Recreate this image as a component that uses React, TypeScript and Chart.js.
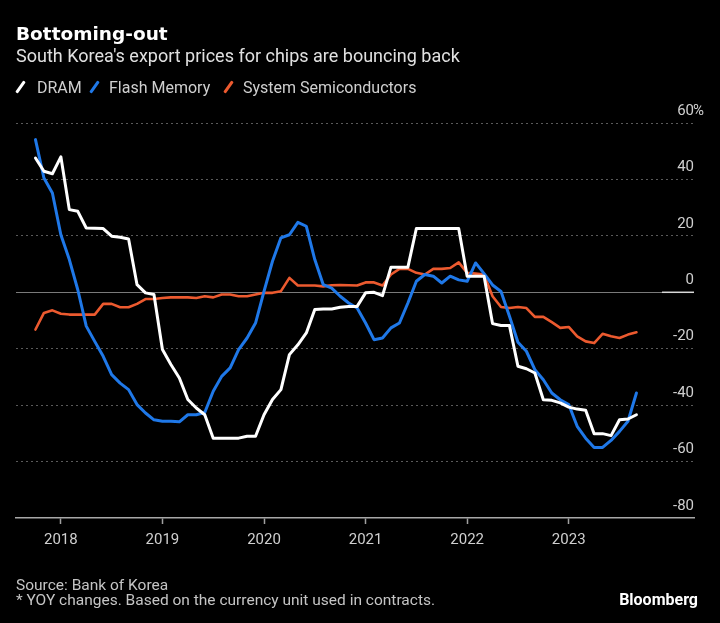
import React, { useEffect, useRef } from "react";
import { Chart, registerables } from "chart.js";
Chart.register(...registerables);

// Monthly series, Oct 2017 .. Sep 2023 (YoY %)
const START_YEAR = 2017;
const START_MONTH = 10;
const yearTicks = [2018, 2019, 2020, 2021, 2022, 2023];
const yTicks = [-80, -60, -40, -20, 0, 20, 40, 60];

const dram = [
  47.6, 42.9, 42, 48, 29.3, 28.7, 22.8, 22.7, 22.6, 19.9, 19.5, 18.9,
  2.7, -0.2, -0.8, -20.3, -25.6, -30.4, -38, -41, -43.4, -51.7, -51.7, -51.7,
  -51.7, -51, -51, -43.4, -38, -34.5, -22.1, -18.6, -14.4, -6.1, -5.9, -5.9,
  -5.3, -5, -5, -0.2, 0, -1.2, 8.9, 8.9, 8.9, 22.6, 22.6, 22.6,
  22.6, 22.6, 22.6, 5.7, 5.7, 5.7, -11.1, -11.8, -11.8, -26.2, -27.1, -28.6,
  -38.1, -38.3, -39.2, -40.7, -41.4, -41.8, -50.1, -50.1, -50.8, -45.2, -44.9, -43.4,
];

const flash = [
  54.1, 40.5, 35.2, 20.4, 11.6, 0.9, -12, -17.4, -22.7, -29.2, -32.2, -34.5,
  -39.8, -42.8, -45.2, -45.7, -45.7, -45.9, -43.4, -43.4, -42.6, -35.1, -29.8, -26.8,
  -20.3, -16.2, -10.9, 0.3, 11, 19.3, 20.4, 24.8, 23.4, 11.6, 2.7, 1.5,
  -1.4, -3.8, -5.6, -10.9, -16.8, -16.2, -12.6, -10.9, -3.8, 3.9, 6.3, 5.7,
  3.3, 5.7, 4.4, 3.9, 10.4, 6.6, 2.6, 0.3, -8.5, -17.7, -20.9, -27.4,
  -31, -35.7, -38.1, -39.8, -47.5, -51.7, -55, -55, -52.5, -49.3, -45.7, -35.7,
];

const systemSemi = [
  -13.2, -7.3, -6.4, -7.6, -7.9, -7.9, -7.9, -7.9, -4.1, -4.1, -5.3, -5.3,
  -4.1, -2.4, -2.4, -2, -1.8, -1.8, -1.8, -2, -1.4, -1.8, -0.8, -0.8,
  -1.4, -1.4, -0.8, -0.2, -0.2, 0.4, 5.1, 2.4, 2.4, 2.4, 2.1, 2.5,
  2.6, 2.5, 2.4, 3.5, 3.5, 2.4, 6.3, 8.3, 8.3, 6.9, 6.3, 8.3,
  8.3, 8.6, 10.6, 6.9, 6.6, 6.3, -1.4, -5.2, -5.6, -5.2, -5.6, -8.7,
  -8.7, -10.6, -12.6, -12.3, -15.6, -17.4, -18, -14.7, -15.6, -16.2, -15, -14.2,
];

const seriesNames = ["DRAM", "Flash Memory", "System Semiconductors"];
const seriesColors = ["#ffffff", "#1f78e8", "#ec5a2f"];

const FONT = "Roboto, 'Liberation Sans', sans-serif";
const TITLE_FONT = "'DejaVu Sans', Roboto, sans-serif";
const LABEL_OFFSET = -12;

const monthIndex = (year: number, month: number) =>
  (year - START_YEAR) * 12 + (month - START_MONTH);

const zeroMark = {
  id: "zeroMark",
  beforeDatasetsDraw(chart: any) {
    const { ctx, chartArea, scales } = chart;
    const y = scales.y.getPixelForValue(0);
    ctx.save();
    ctx.strokeStyle = "#d8d8d8";
    ctx.lineWidth = 1.5;
    ctx.beginPath();
    ctx.moveTo(chartArea.right - 32, y);
    ctx.lineTo(chartArea.right, y);
    ctx.stroke();
    ctx.restore();
  },
};

// "%" unit hanging past the top tick label, as in the original
const unitMark = {
  id: "unitMark",
  afterDraw(chart: any) {
    const { ctx, scales } = chart;
    const ys = scales.y;
    const top = yTicks[yTicks.length - 1];
    ctx.save();
    ctx.font = `15px ${FONT}`;
    ctx.fillStyle = "#cfcfcf";
    ctx.textAlign = "left";
    ctx.textBaseline = "middle";
    ctx.fillText("%", ys.left - 1, ys.getPixelForValue(top) + LABEL_OFFSET);
    ctx.restore();
  },
};

export default function App() {
  const ref = useRef<HTMLCanvasElement>(null);

  useEffect(() => {
    document.body.style.margin = "0";
    document.body.style.background = "#000";
    const toPts = (arr: number[]) => arr.map((v, i) => ({ x: i, y: v }));
    const all = [dram, flash, systemSemi];
    const chart = new Chart(ref.current as HTMLCanvasElement, {
      type: "line",
      data: {
        datasets: all.map((arr, k) => ({
          label: seriesNames[k],
          data: toPts(arr),
          borderColor: seriesColors[k],
          backgroundColor: seriesColors[k],
          borderWidth: k === 2 ? 2.6 : 3,
          pointRadius: 0,
          tension: 0,
          borderJoinStyle: "round" as const,
          borderCapStyle: "round" as const,
        })),
      },
      options: {
        animation: false,
        responsive: false,
        layout: { padding: { left: 16, right: 26, top: 123, bottom: 67 } },
        plugins: { legend: { display: false }, tooltip: { enabled: false } },
        scales: {
          x: {
            type: "linear",
            min: -2.3,
            max: 77.8,
            afterBuildTicks: (s: any) => {
              s.ticks = yearTicks.map((y) => ({ value: monthIndex(y, 1) }));
            },
            ticks: {
              autoSkip: false,
              maxRotation: 0,
              padding: 7,
              color: "#cfcfcf",
              font: { family: FONT, size: 15 },
              callback: (v: any) =>
                String(START_YEAR + Math.floor((Number(v) + START_MONTH - 1) / 12)),
            },
            grid: {
              drawOnChartArea: false,
              drawTicks: true,
              tickLength: 6,
              tickColor: "#a0a0a0",
              tickWidth: 1.5,
            },
            border: { display: true, color: "#a8a8a8", width: 1.5 },
          },
          y: {
            position: "right",
            min: -80,
            max: 60,
            afterBuildTicks: (s: any) => {
              s.ticks = yTicks.map((v) => ({ value: v }));
            },
            ticks: {
              mirror: true,
              padding: 0,
              labelOffset: LABEL_OFFSET,
              color: "#cfcfcf",
              font: { family: FONT, size: 15 },
              callback: (v: any) => String(v),
            },
            grid: {
              drawTicks: false,
              lineWidth: 1,
              color: (ctx: any) => {
                const v = ctx.tick ? ctx.tick.value : null;
                if (v === 0) return "#7a7a7a";
                if (v === -80) return "rgba(0,0,0,0)";
                return "#5a5a5a";
              },
            },
            border: {
              display: false,
              dash: (ctx: any) => (ctx.tick && ctx.tick.value === 0 ? [] : [2, 3]),
            },
          },
        },
      },
      plugins: [zeroMark, unitMark],
    } as any);
    return () => chart.destroy();
  }, []);

  const legendItems = [
    { x: 14, tx: 37 },
    { x: 88, tx: 109 },
    { x: 222, tx: 243 },
  ];

  return (
    <div
      style={{
        position: "relative",
        width: 720,
        height: 623,
        background: "#000",
        overflow: "hidden",
        fontFamily: FONT,
      }}
    >
      <canvas
        ref={ref}
        width={720}
        height={623}
        style={{ position: "absolute", left: 0, top: 0, display: "block" }}
      />
      <div
        style={{
          position: "absolute",
          left: 16,
          top: 25,
          fontFamily: TITLE_FONT,
          fontSize: 18.5,
          lineHeight: "18.5px",
          fontWeight: 700,
          color: "#ffffff",
          whiteSpace: "nowrap",
        }}
      >
        Bottoming-out
      </div>
      <div
        style={{
          position: "absolute",
          left: 16,
          top: 47,
          fontSize: 18,
          lineHeight: "18px",
          color: "#e0e0e0",
          whiteSpace: "nowrap",
        }}
      >
        South Korea's export prices for chips are bouncing back
      </div>
      {seriesNames.map((name, k) => (
        <div key={name}>
          <span
            style={{
              position: "absolute",
              left: legendItems[k].x + 5,
              top: 80,
              width: 3,
              height: 14,
              background: seriesColors[k],
              transform: "rotate(35deg)",
              borderRadius: 1,
            }}
          />
          <div
            style={{
              position: "absolute",
              left: legendItems[k].tx,
              top: 80,
              fontSize: 16,
              lineHeight: "16px",
              color: "#cfcfcf",
              whiteSpace: "nowrap",
            }}
          >
            {name}
          </div>
        </div>
      ))}
      <div
        style={{
          position: "absolute",
          left: 16,
          top: 577.5,
          fontSize: 15.5,
          lineHeight: "15.5px",
          color: "#c4c4c4",
          whiteSpace: "nowrap",
        }}
      >
        Source: Bank of Korea
        <br />* YOY changes. Based on the currency unit used in contracts.
      </div>
      <div
        style={{
          position: "absolute",
          right: 22,
          top: 591.5,
          fontSize: 16,
          lineHeight: "16px",
          fontWeight: 700,
          color: "#ffffff",
        }}
      >
        Bloomberg
      </div>
    </div>
  );
}
